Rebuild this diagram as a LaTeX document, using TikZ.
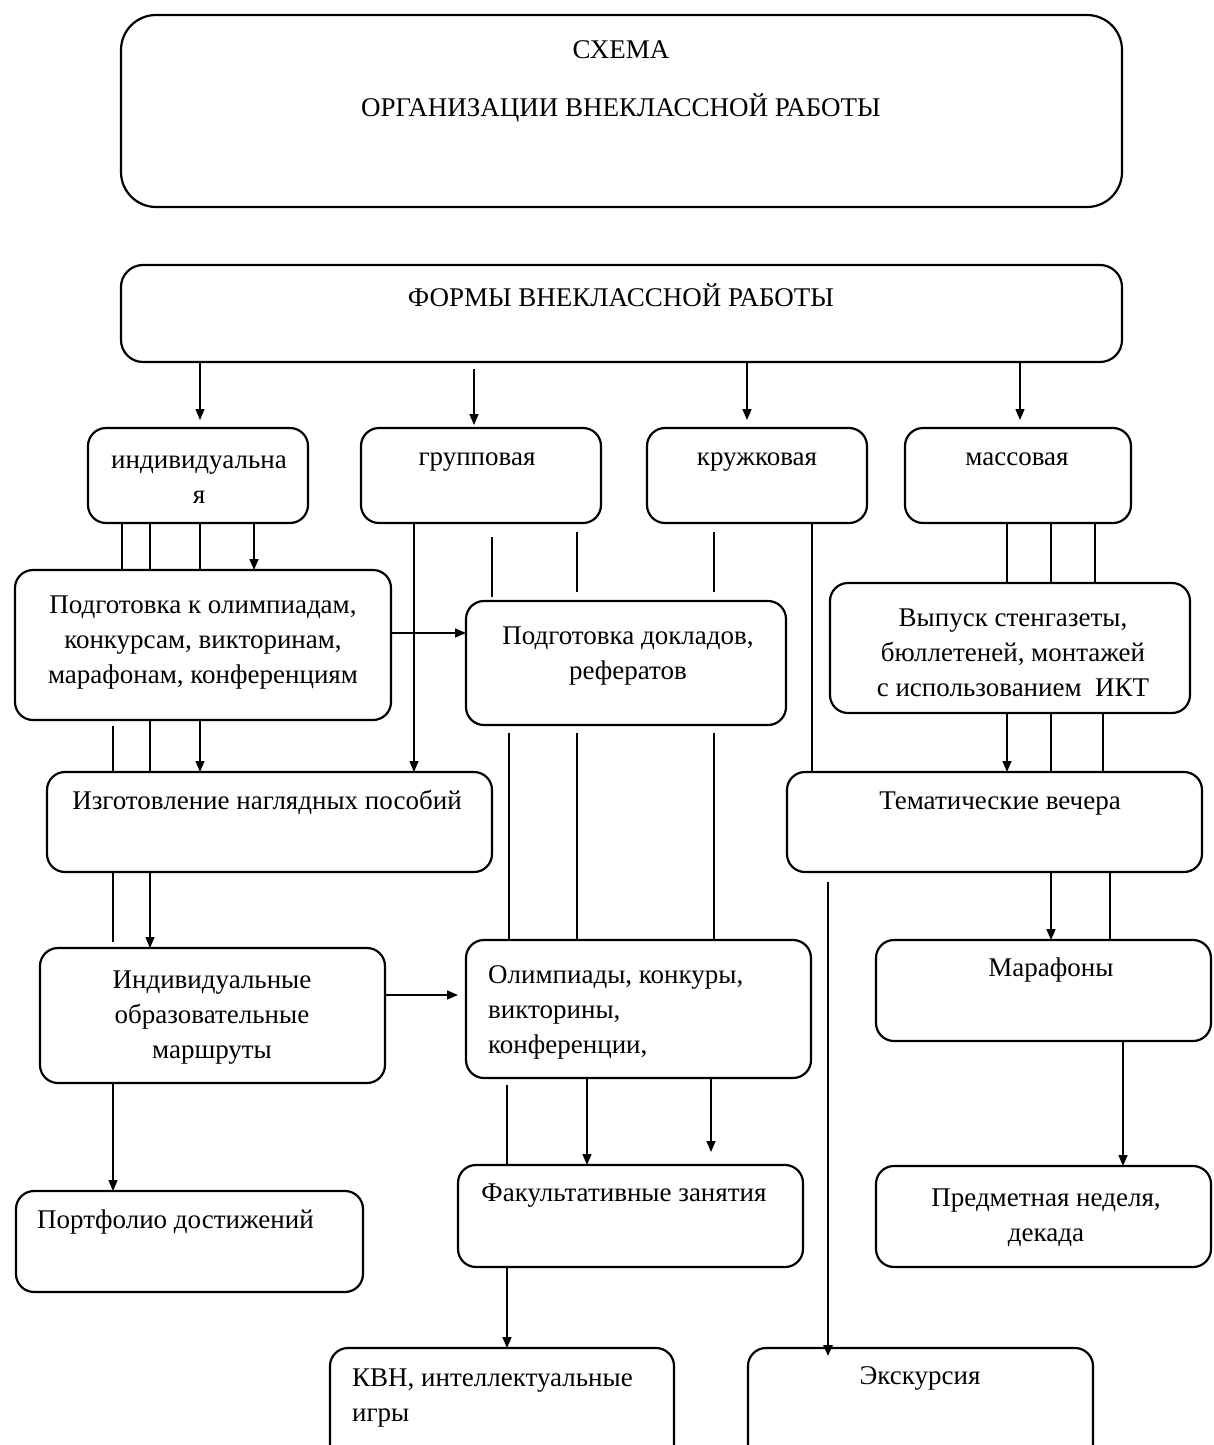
\documentclass[tikz,border=0pt]{standalone}
\usepackage{fontspec}
\setmainfont{Liberation Serif}
\usetikzlibrary{arrows.meta}
\newcommand\mkbox[6][]{\node[bx,#1,minimum width={(#4-#2)*1pt},minimum height={(#5-#3)*1pt}] (#6) at ({(#2+#4)/2},{(#3+#5)/2}) {};}
\begin{document}
\begin{tikzpicture}[x=1pt,y=-1pt,
  bx/.style={draw, line width=2.2pt, rounded corners=18pt, inner sep=0pt, outer sep=0pt},
  tx/.style={font=\fontsize{27}{35}\selectfont, inner sep=0pt, text height=19pt, text depth=7pt, align=center},
  txm/.style={font=\fontsize{27}{35}\selectfont, inner sep=0pt, align=center, anchor=north},
  txml/.style={txm, align=left, anchor=north west},
  txl/.style={tx, align=left},
  ln/.style={line width=1.4pt},
  ar/.style={line width=1.4pt, -{Triangle[length=11pt,width=9pt]}},
]
\useasboundingbox (0,0) rectangle (1213,1445);
\clip (0,0) rectangle (1213,1445);

% boxes
\mkbox[rounded corners=35pt]{121}{15}{1122}{207}{title}
\mkbox[rounded corners=22pt]{121}{265}{1122}{362}{forms}
\mkbox{88}{428}{308}{523}{ind}
\mkbox{361}{428}{601}{523}{grp}
\mkbox{647}{428}{867}{523}{krug}
\mkbox{905}{428}{1131}{523}{mass}
\mkbox{15}{570}{391}{720}{podg}
\mkbox{466}{601}{786}{725}{dokl}
\mkbox{830}{583}{1190}{713}{vyp}
\mkbox{47}{772}{492}{872}{izg}
\mkbox{787}{772}{1202}{872}{tem}
\mkbox{40}{948}{385}{1083}{iom}
\mkbox{466}{940}{811}{1078}{olim}
\mkbox{876}{940}{1211}{1041}{mar}
\mkbox{458}{1165}{803}{1267}{fak}
\mkbox{876}{1166}{1211}{1267}{pred}
\mkbox{16}{1191}{363}{1292}{port}
\mkbox{330}{1348}{674}{1480}{kvn}
\mkbox{748}{1348}{1093}{1480}{exc}

% texts
\node[tx] (t-title1) at (621,53) {СХЕМА};
\node[tx] (t-title2) at (621,110) {ОРГАНИЗАЦИИ ВНЕКЛАССНОЙ РАБОТЫ};
\node[tx] (t-forms) at (621,300) {ФОРМЫ ВНЕКЛАССНОЙ РАБОТЫ};
\node[txm] (t-ind) at (199,444) {\strut индивидуальна\\я};
\node[tx] (t-grp) at (477,459) {групповая};
\node[tx] (t-krug) at (757,459) {кружковая};
\node[tx] (t-mass) at (1017,459) {массовая};
\node[txm] (t-podg) at (203,589) {\strut Подготовка к олимпиадам,\\конкурсам, викторинам,\\марафонам, конференциям};
\node[txm] (t-dokl) at (628,620) {\strut Подготовка докладов,\\рефератов};
\node[txm] (t-vyp) at (1013,602) {\strut Выпуск стенгазеты,\\бюллетеней, монтажей\\с использованием\ \ ИКТ};
\node[tx] (t-izg) at (267,803) {Изготовление наглядных пособий};
\node[tx] (t-tem) at (1000,803) {Тематические вечера};
\node[txm] (t-iom) at (212,964) {\strut Индивидуальные\\образовательные\\маршруты};
\node[txml] (t-olim) at (488,959) {\strut Олимпиады, конкуры,\\викторины,\\конференции,};
\node[tx] (t-mar) at (1051,970) {Марафоны};
\node[tx] (t-fak) at (624,1195) {Факультативные занятия};
\node[txm] (t-pred) at (1046,1182) {\strut Предметная неделя,\\декада};
\node[txl, anchor=west] (t-port) at (37,1222) {Портфолио достижений};
\node[txml] (t-kvn) at (352,1362) {\strut КВН, интеллектуальные\\игры};
\node[tx] (t-exc) at (920,1378) {Экскурсия};

% forms -> level 1
\draw[ar, shorten >=8pt] (forms.south -| 200,0) -- (ind.north -| 200,0);
\draw[ar, shorten <=7pt, shorten >=3pt] (forms.south -| 474,0) -- (grp.north -| 474,0);
\draw[ar, shorten >=8pt] (forms.south -| 747,0) -- (krug.north -| 747,0);
\draw[ar, shorten >=8pt] (forms.south -| 1020,0) -- (mass.north -| 1020,0);

% ind -> podg
\foreach \x in {122,150,200} \draw[ln] (ind.south -| \x,0) -- (podg.north -| \x,0);
\draw[ar] (ind.south -| 254,0) -- (podg.north -| 254,0);

% grp -> izg
\draw[ar] (grp.south -| 414,0) -- (izg.north -| 414,0);

% free short lines under grp / krug
\coordinate (g1a) at (492,537); \coordinate (g1b) at (492,597);
\coordinate (g2a) at (577,532); \coordinate (g2b) at (577,592);
\coordinate (k1a) at (714,532); \coordinate (k1b) at (714,592);
\draw[ln] (g1a) -- (g1b);
\draw[ln] (g2a) -- (g2b);
\draw[ln] (k1a) -- (k1b);

% krug -> tem
\draw[ln] (krug.south -| 812,0) -- (tem.north -| 812,0);

% mass -> vyp
\foreach \x in {1007,1051,1095} \draw[ln] (mass.south -| \x,0) -- (vyp.north -| \x,0);

% podg -> dokl
\draw[ar] (podg.east |- 0,633) -- (dokl.west |- 0,633);

% podg -> izg
\coordinate (p1) at (113,726);
\draw[ln] (p1) -- (izg.north -| 113,0);
\draw[ln] (podg.south -| 150,0) -- (izg.north -| 150,0);
\draw[ar] (podg.south -| 200,0) -- (izg.north -| 200,0);

% dokl -> olim
\coordinate (d1) at (509,733); \coordinate (d2) at (577,733); \coordinate (d3) at (714,733);
\draw[ln] (d1) -- (olim.north -| 509,0);
\draw[ln] (d2) -- (olim.north -| 577,0);
\draw[ln] (d3) -- (olim.north -| 714,0);

% vyp -> tem
\draw[ar] (vyp.south -| 1007,0) -- (tem.north -| 1007,0);
\draw[ln] (vyp.south -| 1051,0) -- (tem.north -| 1051,0);
\draw[ln] (vyp.south -| 1103,0) -- (tem.north -| 1103,0);

% izg -> iom
\draw[ln, shorten >=6pt] (izg.south -| 113,0) -- (iom.north -| 113,0);
\draw[ar] (izg.south -| 150,0) -- (iom.north -| 150,0);

% tem -> mar
\draw[ar] (tem.south -| 1051,0) -- (mar.north -| 1051,0);
\draw[ln] (tem.south -| 1110,0) -- (mar.north -| 1110,0);

% thick line to exc
\coordinate (t0) at (828,882);
\draw[ar, line width=2.8pt, shorten >=-8pt] (t0) -- (exc.north -| 828,0);

% iom -> olim
\draw[ar, shorten >=8pt] (iom.east |- 0,995) -- (olim.west |- 0,995);

% iom -> port
\draw[ar] (iom.south -| 113,0) -- (port.north -| 113,0);

% olim -> fak
\coordinate (o1) at (507,1085);
\draw[ln] (o1) -- (fak.north -| 507,0);
\draw[ar] (olim.south -| 587,0) -- (fak.north -| 587,0);
\draw[ar, shorten >=13pt] (olim.south -| 711,0) -- (fak.north -| 711,0);

% mar -> pred
\draw[ar] (mar.south -| 1123,0) -- (pred.north -| 1123,0);

% fak -> kvn
\draw[ar] (fak.south -| 507,0) -- (kvn.north -| 507,0);
\end{tikzpicture}
\end{document}
